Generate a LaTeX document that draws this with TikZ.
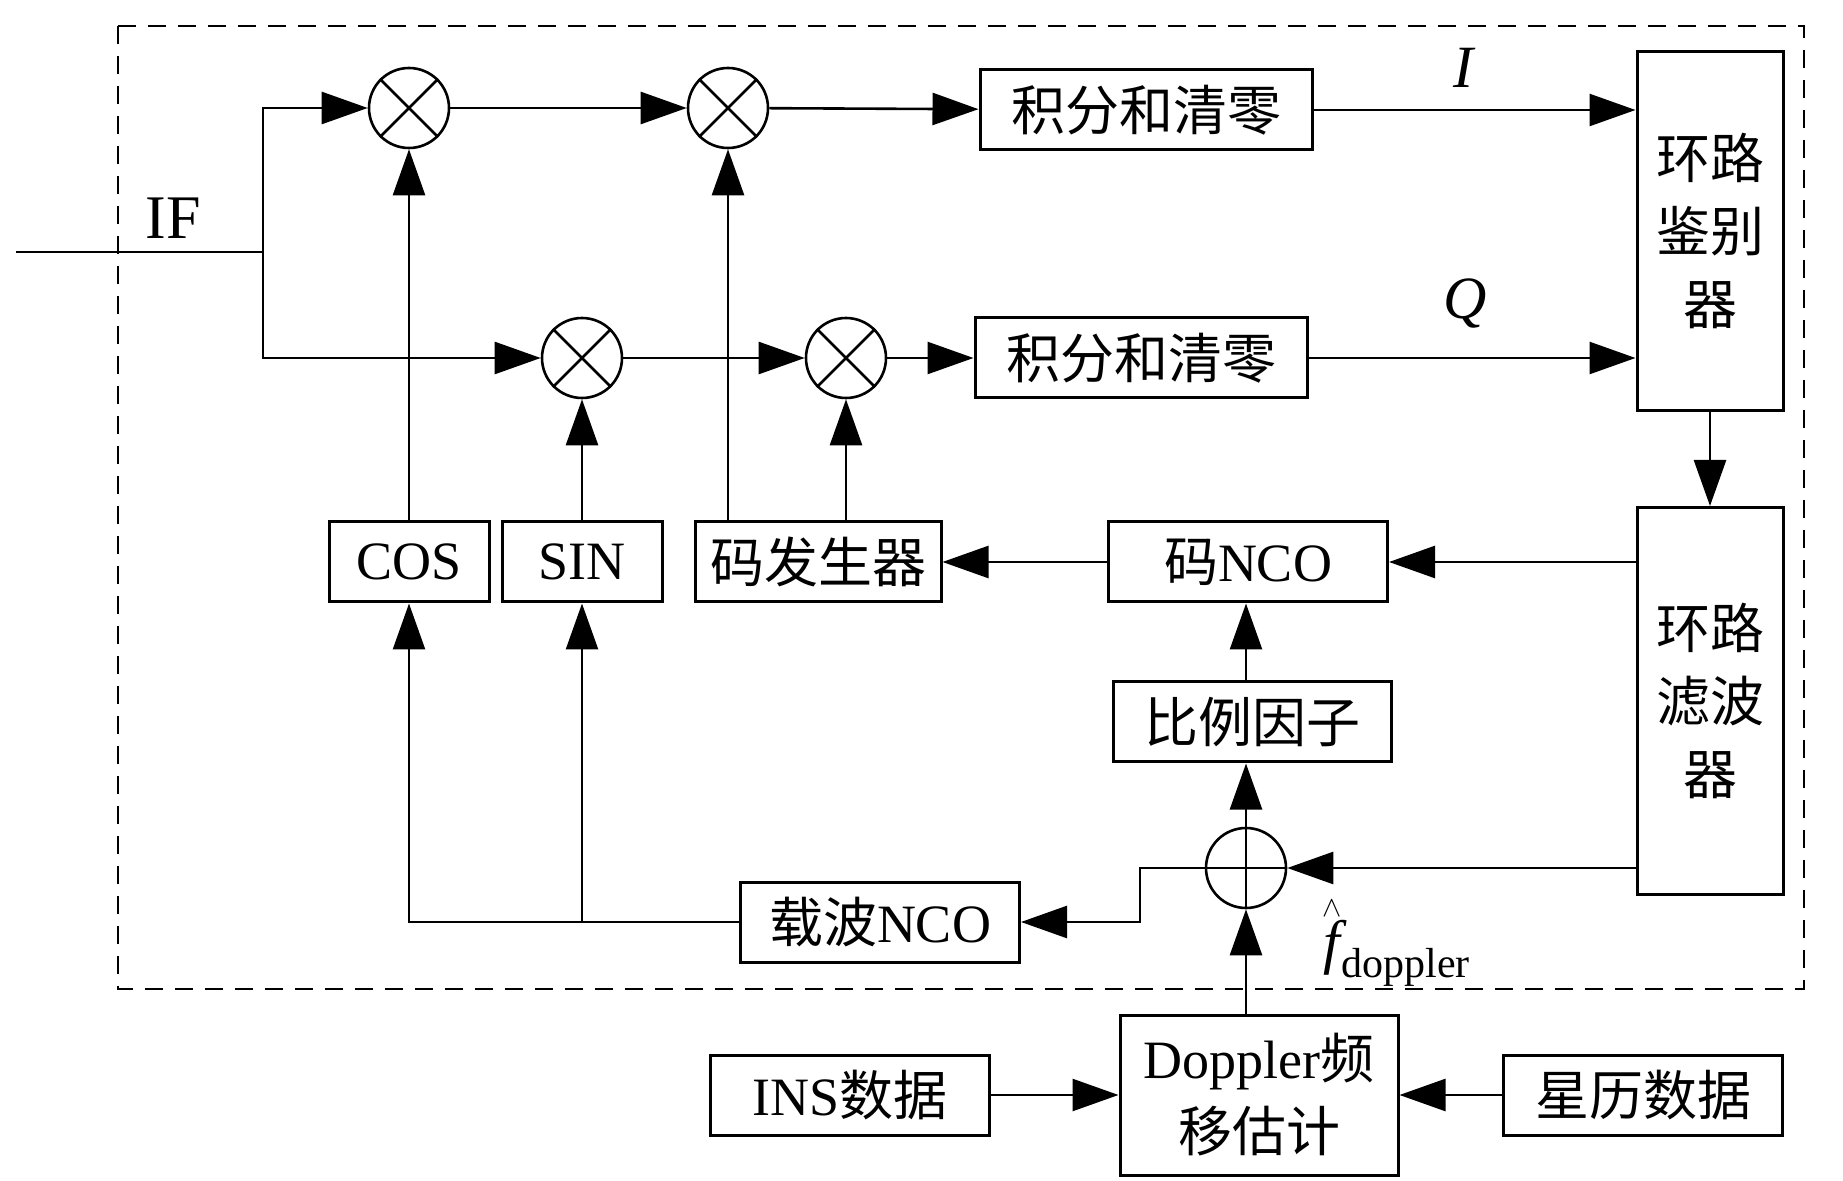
\documentclass[tikz,border=0pt]{standalone}
\usepackage{fontspec}
\setmainfont{Liberation Serif}
\newfontfamily\cjk{Noto Sans CJK SC}
\usetikzlibrary{arrows.meta}

\begin{document}
\begin{tikzpicture}[x=0.5pt,y=-0.5pt,
    blk/.style={draw,line width=1.5pt,inner sep=0pt,minimum height=40pt,font=\fontsize{27}{36.5}\selectfont,align=center},
    mixer/.style={draw,circle,line width=1.3pt,minimum size=40pt,inner sep=0pt},
    arr/.style={-{Triangle[length=23pt,width=16pt]},line width=1.3pt}]
    \useasboundingbox (0,0) rectangle (1843,1181);
    \draw[line width=1.3pt,dash pattern=on 9pt off 6pt] (118,26) rectangle (1804,989);
    % mixers and sum
    \node[mixer] (mA) at (409,108) {};
    \node[mixer] (mB) at (728,108) {};
    \node[mixer] (mC) at (582,358) {};
    \node[mixer] (mD) at (846,358) {};
    \foreach \m in {mA,mB,mC,mD} \draw[line width=1.3pt] (\m.45) -- (\m.225) (\m.135) -- (\m.315);
    \node[mixer] (sum) at (1246,868) {};
    \draw[line width=1.3pt] (sum.north) -- (sum.south) (sum.west) -- (sum.east);
    % blocks
    \node[blk,minimum width=166pt] (intI) at (1146,110) {{\cjk 积分和清零}};
    \node[blk,minimum width=166pt] (intQ) at (1141,358) {{\cjk 积分和清零}};
    \node[blk,minimum width=73pt,minimum height=179.5pt] (disc) at (1710,231) {{\cjk 环路}\\{\cjk 鉴别}\\{\cjk 器}};
    \node[blk,minimum width=73pt,minimum height=193.5pt] (filt) at (1710,701) {{\cjk 环路}\\{\cjk 滤波}\\{\cjk 器}};
    \node[blk,minimum width=80pt] (cos) at (409,562) {COS};
    \node[blk,minimum width=80pt] (sin) at (582,562) {SIN};
    \node[blk,minimum width=123pt] (cgen) at (818,562) {{\cjk 码发生器}};
    \node[blk,minimum width=139.5pt] (cnco) at (1248,562) {{\cjk 码}NCO};
    \node[blk,minimum width=139pt] (scl) at (1252,722) {{\cjk 比例因子}};
    \node[blk,minimum width=139.5pt] (carr) at (880,922) {{\cjk 载波}NCO};
    \node[blk,minimum width=139.5pt] (ins) at (850,1095) {INS{\cjk 数据}};
    \node[blk,minimum width=139pt,minimum height=80pt] (dop) at (1259,1095) {Doppler{\cjk 频}\\{\cjk 移估计}};
    \node[blk,minimum width=139.5pt] (eph) at (1643,1095) {{\cjk 星历数据}};
    % labels
    \node[font=\fontsize{31}{31}\selectfont] (lIF) at (173,218) {IF};
    \node[font=\fontsize{30}{30}\selectfont] (lI) at (1465,68) {\textit{I}};
    \node[font=\fontsize{30}{30}\selectfont] (lQ) at (1465,304) {\textit{Q}};
    \node[font=\fontsize{30}{30}\selectfont,anchor=base west,inner sep=0pt] (lf) at (1322,960) {${\stackrel{\scriptscriptstyle\wedge}{\mathit{f}}}_{\mathrm{doppler}}$};
    % connectors
    \coordinate (ifin) at (16,252);
    \coordinate (split) at (263,252);
    \draw[line width=1.3pt] (ifin) -- (split);
    \draw[arr] (split) |- (mA);
    \draw[arr] (split) |- (mC);
    \draw[arr] (mA) -- (mB);
    \draw[arr] (mB) -- (intI);
    \draw[arr] (intI) -- (intI -| disc.west);
    \draw[arr] (mC) -- (mD);
    \draw[arr] (mD) -- (intQ);
    \draw[arr] (intQ) -- (intQ -| disc.west);
    \draw[arr] (cos) -- (mA);
    \draw[arr] (sin) -- (mC);
    \draw[arr] (mB |- cgen.north) -- (mB);
    \draw[arr] (mD |- cgen.north) -- (mD);
    \draw[arr] (disc) -- (filt);
    \draw[arr] (filt.west |- cnco) -- (cnco);
    \draw[arr] (cnco) -- (cgen);
    \draw[arr] (filt.west |- sum) -- (sum);
    \coordinate (jog) at (1140,922);
    \draw[arr] (sum.west) -| (jog) -- (carr);
    \draw[arr] (carr) -| (cos);
    \draw[arr] (sin |- carr) -- (sin);
    \draw[arr] (sum) -- (sum |- scl.south);
    \draw[arr] (sum |- scl.north) -- (sum |- cnco.south);
    \draw[arr] (sum |- dop.north) -- (sum);
    \draw[arr] (ins) -- (dop);
    \draw[arr] (eph) -- (dop);
\end{tikzpicture}
\end{document}
